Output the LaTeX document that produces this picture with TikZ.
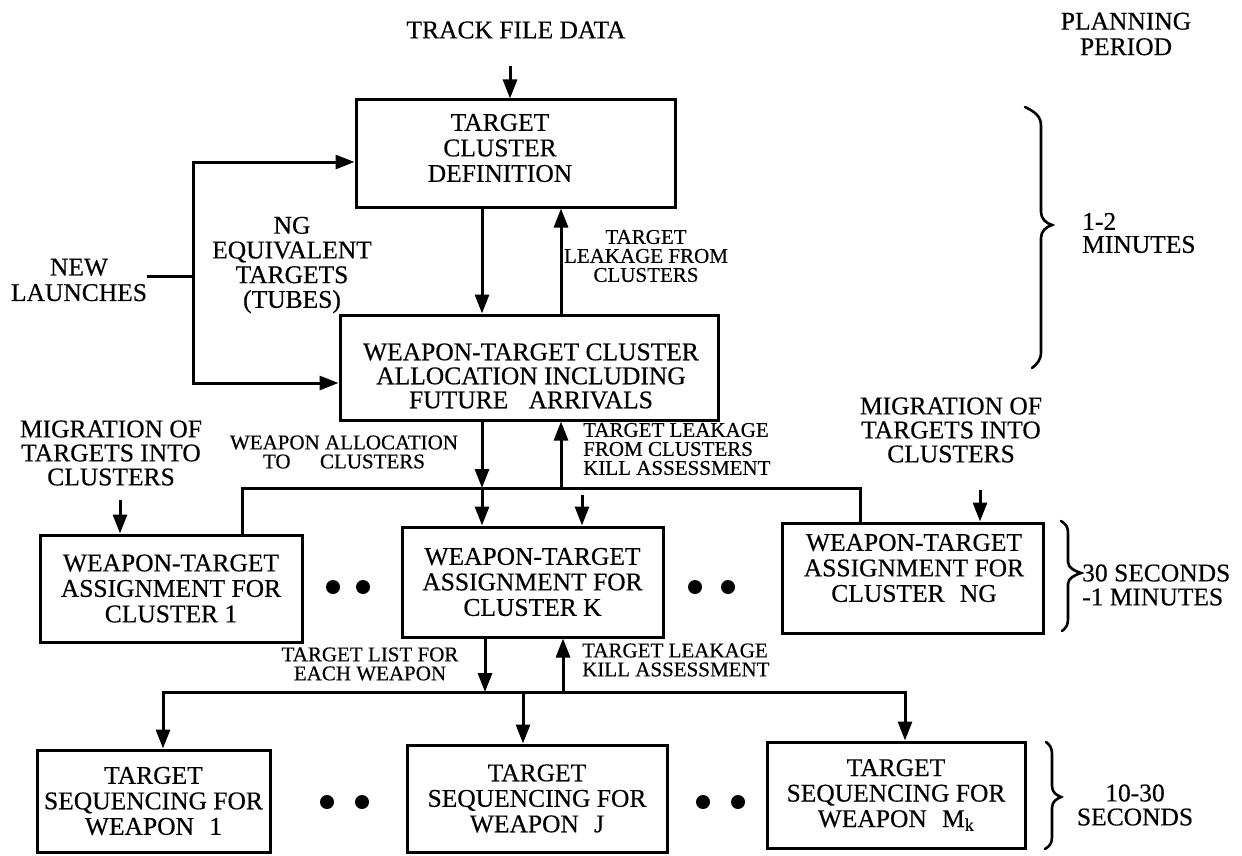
\documentclass[tikz,border=0pt]{standalone}
\usepackage{fontspec}
\setmainfont{Liberation Serif}[FakeBold=0.4]
\newfontfamily\chartfont{Liberation Serif}[FakeBold=0.4]
\usetikzlibrary{arrows.meta}
\begin{document}
\begin{tikzpicture}[x=1pt,y=-1pt,
  line/.style={line width=3pt},
  arr/.style={line width=3pt,-{Triangle[length=19pt,width=14pt]}},
  arrboth/.style={line width=3pt,{Triangle[length=19pt,width=14pt]}-{Triangle[length=19pt,width=14pt]}},
  box/.style={draw,line width=3pt,inner sep=0pt},
  big/.style={font=\chartfont\fontsize{25.5}{25.5}\selectfont,align=center,inner sep=0pt},
  small/.style={font=\chartfont\fontsize{21}{19}\selectfont,inner sep=0pt},
  dot/.style={circle,fill,inner sep=0pt,minimum size=14pt},
  brace/.style={line width=2.6pt,line cap=round}]
\useasboundingbox[fill=white] (0,0) rectangle (1242,856);

% --- top level: cluster definition and allocation ---
\node[big] (track) at (516,30) {TRACK FILE DATA};
\node[big] (plan) at (1126,34) {PLANNING\\PERIOD};
\node[box,minimum width=319pt,minimum height=107pt] (tcd) at (515.5,153.5) {};
\node[big] (tcdtext) at (500,148) {TARGET\\CLUSTER\\DEFINITION};
\node[big] (newl) at (79,280) {NEW\\LAUNCHES};
\node[big,font=\chartfont\fontsize{25.5}{24.7}\selectfont] (ngeq) at (292,265) {NG\\EQUIVALENT\\TARGETS\\(TUBES)};
\node[small,align=center] (leak1) at (646,256) {TARGET\\LEAKAGE FROM\\CLUSTERS};
\node[box,minimum width=378pt,minimum height=105pt] (wtca) at (529,367.5) {};
\node[big,font=\chartfont\fontsize{25.5}{24}\selectfont] (wtcatext) at (531,376) {WEAPON-TARGET CLUSTER\\ALLOCATION INCLUDING\\FUTURE\hspace{0.8em}ARRIVALS};
\node[big,anchor=west,align=left,font=\chartfont\fontsize{25.5}{23}\selectfont] (t12) at (1082,233) {1-2\\MINUTES};

% --- cluster level ---
\node[big,font=\chartfont\fontsize{25.5}{24}\selectfont] (migl) at (111,453) {MIGRATION OF\\TARGETS INTO\\CLUSTERS};
\node[big,font=\chartfont\fontsize{25.5}{24}\selectfont] (migr) at (951,430) {MIGRATION OF\\TARGETS INTO\\CLUSTERS};
\node[small,align=center] (walloc) at (344,452) {WEAPON ALLOCATION\\TO\hspace{1.4em}CLUSTERS};
\node[small,align=left,anchor=west] (leak2) at (583,449) {TARGET LEAKAGE\\FROM CLUSTERS\\KILL ASSESSMENT};
\node[box,big,minimum width=262pt,minimum height=107pt] (c1) at (171,588.5) {WEAPON-TARGET\\ASSIGNMENT FOR\\CLUSTER 1};
\node[box,big,minimum width=261pt,minimum height=110pt] (ck) at (532.5,582) {WEAPON-TARGET\\ASSIGNMENT FOR\\CLUSTER K};
\node[box,minimum width=261pt,minimum height=110pt] (cng) at (912.5,578) {};
\node[big] (cngtext) at (914,568) {WEAPON-TARGET\\ASSIGNMENT FOR\\CLUSTER\hspace{0.6em}NG};
\node[big,anchor=west,align=left,font=\chartfont\fontsize{25.5}{24}\selectfont] (t30) at (1082,585) {30 SECONDS\\-1 MINUTES};
\node[dot] (d1) at (333,587) {};
\node[dot] (d2) at (363,587) {};
\node[dot] (d3) at (695,587) {};
\node[dot] (d4) at (728,587) {};

% --- weapon level ---
\node[small,align=center] (tlist) at (370,664) {TARGET LIST FOR\\EACH WEAPON};
\node[small,align=left,anchor=west] (leak3) at (582,660) {TARGET LEAKAGE\\KILL ASSESSMENT};
\node[box,big,minimum width=233pt,minimum height=102pt] (w1) at (153.5,801) {TARGET\\SEQUENCING FOR\\WEAPON\hspace{0.6em}1};
\node[box,big,minimum width=260pt,minimum height=107pt] (wj) at (537,798.5) {TARGET\\SEQUENCING FOR\\WEAPON\hspace{0.6em}J};
\node[box,big,minimum width=258pt,minimum height=106pt] (wm) at (896,795) {TARGET\\SEQUENCING FOR\\WEAPON\hspace{0.6em}M\textsubscript{k}};
\node[big,font=\chartfont\fontsize{25.5}{24}\selectfont] (t1030) at (1135,805) {10-30\\SECONDS};
\node[dot] (d5) at (327,802) {};
\node[dot] (d6) at (362,802) {};
\node[dot] (d7) at (703,802) {};
\node[dot] (d8) at (738,802) {};

% --- connectors, top ---
\coordinate (trk) at (510,66);
\draw[arr] (trk) -- (trk |- tcd.north);
\coordinate (lp) at (193,276);
\coordinate (lptop) at (193,162);
\coordinate (lpbot) at (193,383);
\draw[line] (newl.east |- lp) -- (lp);
\draw[arrboth] (lptop -| tcd.west) -- (lptop) -- (lpbot) -- (lpbot -| wtca.west);
\coordinate (xd) at (482,0);
\coordinate (xu) at (561,0);
\draw[arr] (tcd.south -| xd) -- (wtca.north -| xd);
\draw[arr] (wtca.north -| xu) -- (tcd.south -| xu);

% --- connectors, cluster level ---
\coordinate (b1l) at (242,488);
\coordinate (b1r) at (860,488);
\draw[line] (c1.north -| b1l) -- (b1l) -- (b1r) -- (b1r |- cng.north);
\draw[arr] (wtca.south -| xd) -- (b1l -| xd);
\draw[arr] (b1l -| xd) -- (ck.north -| xd);
\draw[arr] (b1l -| xu) -- (wtca.south -| xu);
\coordinate (mk) at (582,495);
\draw[arr] (mk) -- (mk |- ck.north);
\coordinate (ml) at (120,500);
\draw[arr] (ml) -- (ml |- c1.north);
\coordinate (mr) at (980,490);
\draw[arr] (mr) -- (mr |- cng.north);

% --- connectors, weapon level ---
\coordinate (xd2) at (485,0);
\coordinate (xu2) at (563,0);
\coordinate (xm) at (523,0);
\coordinate (b2l) at (163,692);
\coordinate (b2r) at (905,692);
\draw[arr] (ck.south -| xd2) -- (b2l -| xd2);
\draw[arr] (b2l -| xu2) -- (ck.south -| xu2);
\draw[arrboth] (b2l |- w1.north) -- (b2l) -- (b2r) -- (b2r |- wm.north);
\draw[arr] (b2l -| xm) -- (wj.north -| xm);

% --- planning period braces ---
\draw[brace] (1025,107) .. controls (1035,112) and (1041,116) .. (1041,126) -- (1041,212)
  .. controls (1041,219) and (1046,223) .. (1052,225) .. controls (1046,227) and (1041,231) .. (1041,238)
  -- (1041,352) .. controls (1041,360) and (1037,364) .. (1032,368);
\draw[brace] (1061,521) .. controls (1066,524) and (1068,527) .. (1068,533) -- (1068,562)
  .. controls (1068,568) and (1075,571) .. (1081,573) .. controls (1075,575) and (1068,578) .. (1068,584)
  -- (1068,619) .. controls (1068,625) and (1066,628) .. (1062,631);
\draw[brace] (1046,742) .. controls (1050,745) and (1052,748) .. (1052,754) -- (1052,786)
  .. controls (1052,792) and (1056,795) .. (1061,797) .. controls (1056,799) and (1052,802) .. (1052,808)
  -- (1052,837) .. controls (1052,843) and (1050,846) .. (1045,849);
\end{tikzpicture}
\end{document}
